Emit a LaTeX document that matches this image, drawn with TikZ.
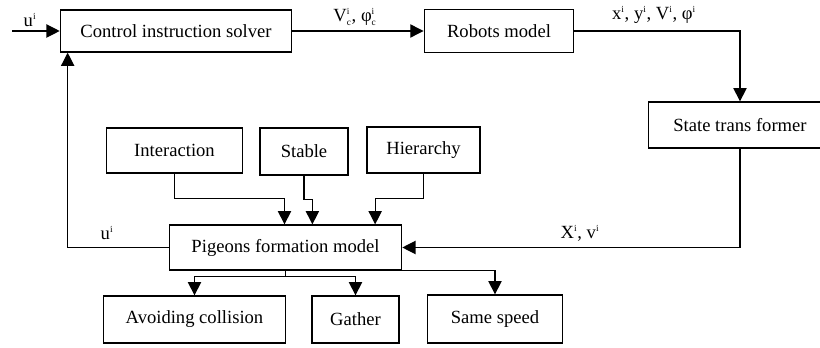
\documentclass[tikz,border=0pt]{standalone}
\usepackage{amsmath}
\usepackage{fontspec}
\setmainfont{Liberation Serif}
\usepackage{tikz}
\usetikzlibrary{arrows.meta, positioning, calc}

\tikzset{
  blk/.style={draw, line width=1.1pt, inner sep=0pt, font=\fontsize{14}{16}\selectfont},
  arr/.style={line width=0.9pt, -{Triangle[length=10pt, width=10pt]}},
  lnk/.style={line width=0.9pt},
  lbl/.style={font=\fontsize{14}{16}\selectfont, inner sep=0pt}
}
\newcommand{\supi}{\textsuperscript{\fontsize{7}{8}\selectfont i}}
\newcommand{\vc}[1]{$\text{#1}^{\text{\fontsize{7}{8}\selectfont i}}_{\text{\fontsize{7}{8}\selectfont c}}$}

\begin{document}
\begin{tikzpicture}[x=0.02646cm, y=-0.02646cm]
  \useasboundingbox (0,0) rectangle (820,348);

  % Top row
  \node[blk, minimum width=232*0.75pt, minimum height=42*0.75pt] (cis) at (176, 31) {Control instruction solver};
  \node[blk, minimum width=150*0.75pt, minimum height=43*0.75pt] (robots) at (499, 31) {Robots model};
  \node[blk, minimum width=184*0.75pt, minimum height=46*0.75pt] (stf) at (740, 125) {State trans former};
  \coordinate (uin) at (12, 31);

  % Influences
  \node[blk, minimum width=137*0.75pt, minimum height=45*0.75pt] (inter) at (174.5, 150.5) {Interaction};
  \node[blk, minimum width=88*0.75pt, minimum height=47*0.75pt] (stable) at (304, 151.5) {Stable};
  \node[blk, minimum width=113*0.75pt, minimum height=46*0.75pt] (hier) at (423.5, 150) {Hierarchy};

  % Formation model
  \node[blk, minimum width=233*0.75pt, minimum height=45*0.75pt] (pfm) at (285.5, 247.5) {Pigeons formation model};

  % Outcomes
  \node[blk, minimum width=183*0.75pt, minimum height=47*0.75pt] (avoid) at (194.5, 319.5) {Avoiding collision};
  \node[blk, minimum width=87*0.75pt, minimum height=47*0.75pt] (gather) at (355.5, 319.5) {Gather};
  \node[blk, minimum width=136*0.75pt, minimum height=48*0.75pt] (same) at (495, 319) {Same speed};

  % Signal flow
  \draw[arr] (uin) -- (uin -| cis.west);
  \node[lbl] (uinl) at (30, 20) {u\supi};
  \draw[arr] (cis.east) -- (robots.west);
  \node[lbl] (vcl) at (355, 17) {\vc{V}, \vc{φ}};
  \draw[arr] (robots.east) -| (stf.north);
  \node[lbl] (xyl) at (654, 15) {x\supi, y\supi, V\supi, φ\supi};
  \draw[arr] (stf.south) |- (pfm.east);
  \node[lbl] (xvl) at (580, 233) {X\supi, v\supi};
  \draw[arr] (pfm.west) -| ([xshift=6pt]cis.south west);
  \node[lbl] (ufbl) at (107, 233) {u\supi};

  % Into the formation model
  \draw[arr] (inter.south) -- ++(0,25) -| ([xshift=-0.75pt]pfm.north);
  \draw[arr] (stable.south) -- ++(0,24) -| ([xshift=20.25pt]pfm.north);
  \draw[arr] (hier.south) -- ++(0,25) -| ([xshift=67.5pt]pfm.north);

  % Out of the formation model
  \draw[lnk] (pfm.south) -- ++(0,6) coordinate (split);
  \draw[arr] (split) -| (avoid.north);
  \draw[arr] (split) -| (gather.north);
  \draw[arr] (pfm.south east) -| (same.north);
\end{tikzpicture}
\end{document}
